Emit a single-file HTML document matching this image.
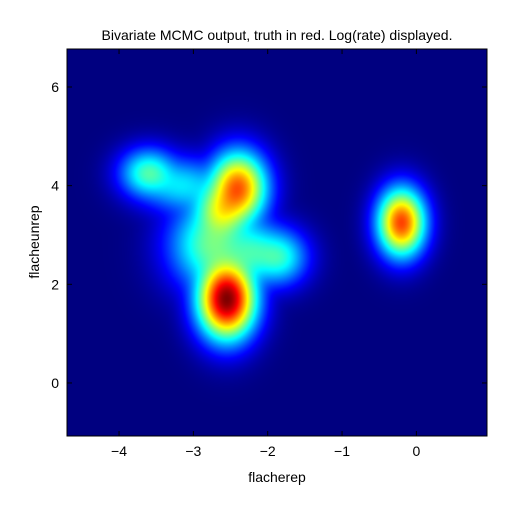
<!DOCTYPE html>
<html><head><meta charset="utf-8"><style>
body{margin:0;background:#fff;width:512px;height:512px;overflow:hidden;font-family:"Liberation Sans",sans-serif}
#wrap{position:relative;width:512px;height:512px}
canvas{position:absolute;left:67px;top:49px}
svg{position:absolute;left:0;top:0}
text{font-family:"Liberation Sans",sans-serif;font-size:14px;fill:#000}
</style></head><body>
<div id="wrap">
<canvas id="cv" width="420" height="387"></canvas>
<svg id="sv" width="512" height="512"></svg>
</div>
<script>
const blobX=[-2.55,-2.4,-0.2,-3.6,-1.85,-2.75,-3.15,-2.62,-2.2];
const blobY=[1.7,3.95,3.25,4.25,2.55,2.8,4.0,3.5,2.65];
const blobAmp=[1.0,0.5,0.55,0.1,0.08,0.12,0.05,0.2,0.08];
const blobSx=[0.17,0.17,0.14,0.17,0.17,0.25,0.25,0.17,0.2];
const blobSy=[0.35,0.32,0.3,0.22,0.25,0.4,0.25,0.28,0.3];
const xTicks=[-4,-3,-2,-1,0];
const yTicks=[0,2,4,6];
const xMin=-4.70,xMax=0.95,yMin=-1.075,yMax=6.77;
const L=67,T=49,W=420,H=387,P=0.35;
const sx=v=>L+(v-xMin)/(xMax-xMin)*W;
const sy=v=>T+(yMax-v)/(yMax-yMin)*H;
function jet(t){t=Math.max(0,Math.min(1,t));
 const r=Math.max(0,Math.min(1,1.5-Math.abs(4*t-3))),g=Math.max(0,Math.min(1,1.5-Math.abs(4*t-2))),b=Math.max(0,Math.min(1,1.5-Math.abs(4*t-1)));
 return [r*255,g*255,b*255];}
const cv=document.getElementById('cv'),ctx=cv.getContext('2d'),img=ctx.createImageData(W,H);
for(let j=0;j<H;j++)for(let i=0;i<W;i++){
 const x=xMin+(i+0.5)/W*(xMax-xMin),y=yMax-(j+0.5)/H*(yMax-yMin);
 let s=0;for(let k=0;k<blobX.length;k++){const dx=(x-blobX[k])/blobSx[k],dy=(y-blobY[k])/blobSy[k];s+=blobAmp[k]*Math.exp(-0.5*(dx*dx+dy*dy));}
 const c=jet(Math.pow(Math.min(1,s),P));const p=(j*W+i)*4;
 img.data[p]=c[0];img.data[p+1]=c[1];img.data[p+2]=c[2];img.data[p+3]=255;}
ctx.putImageData(img,0,0);
const sv=document.getElementById('sv'),NS='http://www.w3.org/2000/svg';
function mk(t,a,name){const e=document.createElementNS(NS,t);for(const k in a)e.setAttribute(k,a[k]);


sv.appendChild(e);return e;}
mk('rect',{x:L,y:T,width:W,height:H,fill:'none',stroke:'#000','stroke-width':1},'plot-frame');
xTicks.forEach(v=>{const x=sx(v);
 mk('line',{x1:x,x2:x,y1:T+H,y2:T+H-5,stroke:'#000'},'x-tick');
 mk('line',{x1:x,x2:x,y1:T,y2:T+5,stroke:'#000'},'x-tick-top');
 const t=mk('text',{x:x,y:T+H+20,'text-anchor':'middle'},'x-tick-label');t.textContent=(v<0?'\u2212'+(-v):v);});
yTicks.forEach(v=>{const y=sy(v);
 mk('line',{x1:L,x2:L+5,y1:y,y2:y,stroke:'#000'},'y-tick');
 mk('line',{x1:L+W,x2:L+W-5,y1:y,y2:y,stroke:'#000'},'y-tick-right');
 const t=mk('text',{x:L-8,y:y+5,'text-anchor':'end'},'y-tick-label');t.textContent=v;});
let t=mk('text',{x:277,y:482,'text-anchor':'middle'},'x-axis-title');t.textContent='flacherep';
t=mk('text',{x:0,y:0,'text-anchor':'middle',transform:'translate(39,242) rotate(-90)'},'y-axis-title');t.textContent='flacheunrep';
t=mk('text',{x:277,y:40,'text-anchor':'middle'},'chart-title');t.textContent='Bivariate MCMC output, truth in red. Log(rate) displayed.';
</script>
</body></html>
